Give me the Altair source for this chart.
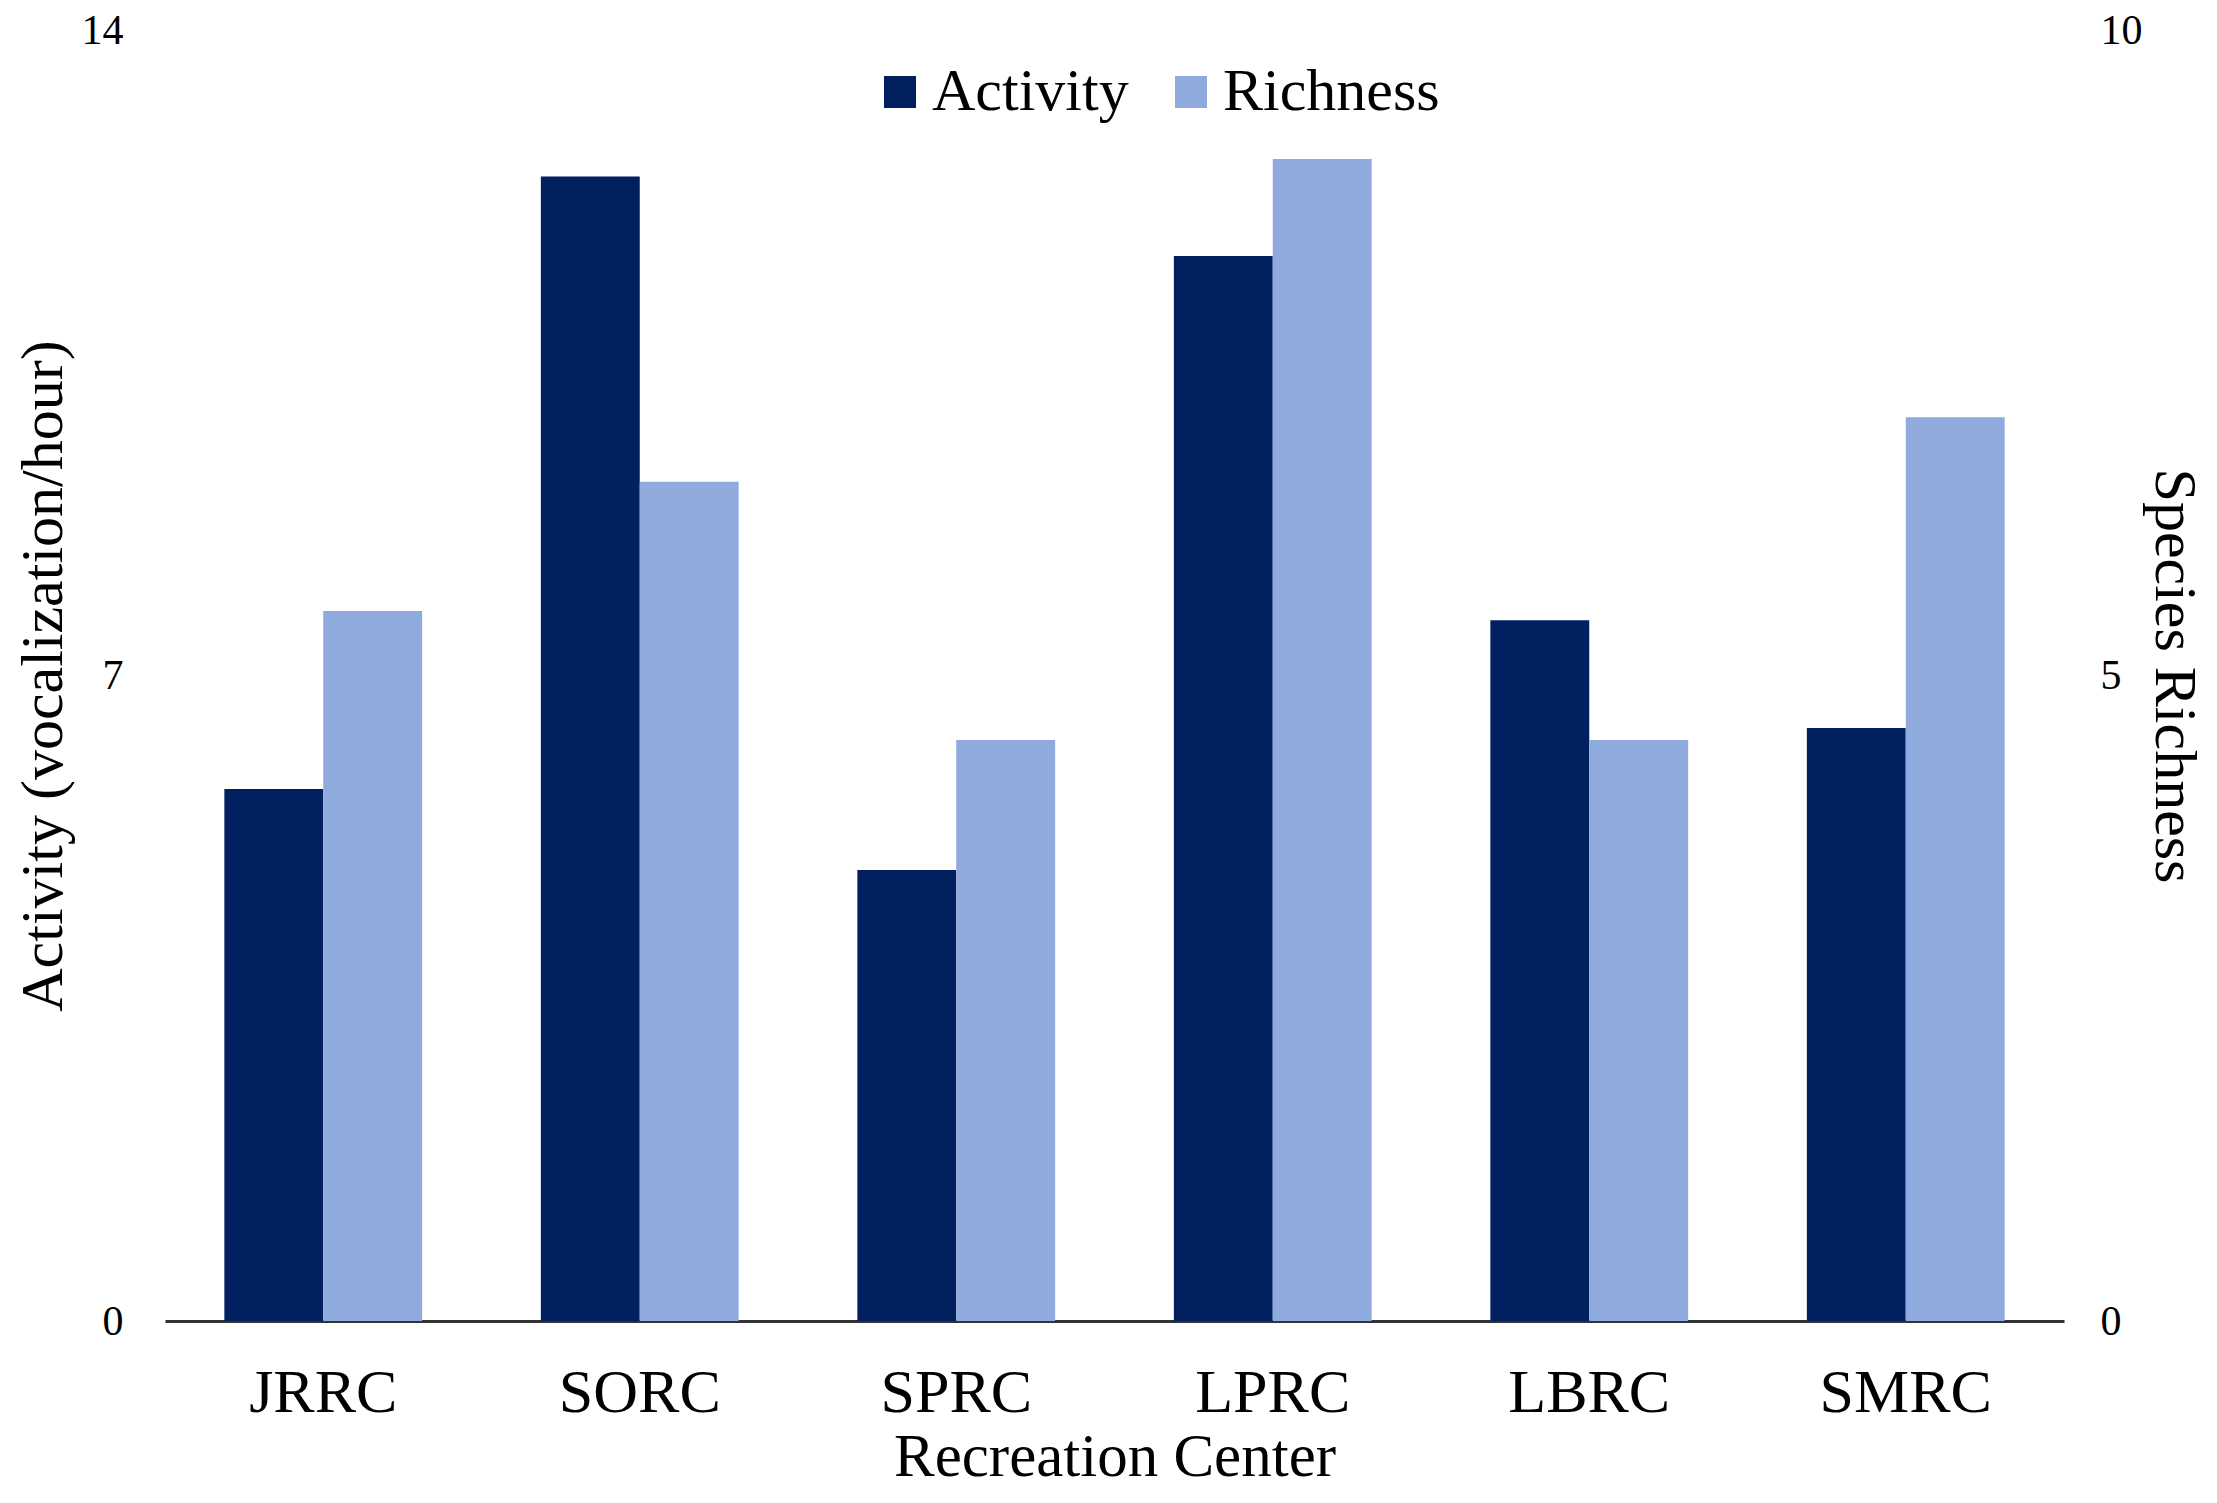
import altair as alt
import pandas as pd

# ---- data ----
centers = ["JRRC", "SORC", "SPRC", "LPRC", "LBRC", "SMRC"]
activity = [5.77, 12.41, 4.89, 11.55, 7.60, 6.43]   # vocalizations/hour (left axis)
richness = [5.5, 6.5, 4.5, 9.0, 4.5, 7.0]           # species richness (right axis)
series = ["Activity", "Richness"]
colors = ["#002060", "#8FAADC"]
left_ticks = [0, 7, 14]
right_ticks = [0, 5, 10]

df_a = pd.DataFrame({"center": centers, "value": activity, "series": series[0]})
df_r = pd.DataFrame({"center": centers, "value": richness, "series": series[1]})

FONT = "Liberation Serif"

x_enc = alt.X(
    "center:N",
    sort=centers,
    title="Recreation Center",
    scale=alt.Scale(paddingInner=0.375, paddingOuter=0.1875),
    axis=alt.Axis(
        labelAngle=0, ticks=False, tickSize=0, labelPadding=41, titlePadding=4,
        domainColor="#333333", domainWidth=3,
        labelFont=FONT, titleFont=FONT, labelFontSize=62, titleFontSize=61,
        titleFontWeight="normal", labelColor="black", titleColor="black",
    ),
)
xoff_enc = alt.XOffset("series:N", scale=alt.Scale(domain=series, paddingInner=0, paddingOuter=0))
color_enc = alt.Color(
    "series:N",
    scale=alt.Scale(domain=series, range=colors),
    legend=alt.Legend(
        title=None, orient="none", legendX=705, legendY=32, direction="horizontal",
        symbolType="square", symbolSize=1024, symbolStrokeWidth=0,
        labelFont=FONT, labelFontSize=60, labelColor="black", labelOffset=2,
        columnPadding=32, labelLimit=0,
    ),
)

common_axis = dict(
    grid=False, ticks=False, domain=False,
    labelFont=FONT, titleFont=FONT, labelFontSize=42, titleFontSize=60,
    titleFontWeight="normal", labelColor="black", titleColor="black",
)

bars_a = alt.Chart(df_a).mark_bar().encode(
    x=x_enc,
    xOffset=xoff_enc,
    color=color_enc,
    y=alt.Y(
        "value:Q",
        scale=alt.Scale(domain=[0, 14], nice=False),
        axis=alt.Axis(values=left_ticks, title="Activity (vocalization/hour)", orient="left",
                      labelPadding=42, titlePadding=7, **common_axis),
    ),
)

bars_r = alt.Chart(df_r).mark_bar().encode(
    x=x_enc,
    xOffset=xoff_enc,
    color=color_enc,
    y=alt.Y(
        "value:Q",
        scale=alt.Scale(domain=[0, 10], nice=False),
        axis=alt.Axis(values=right_ticks, title="Species Richness", orient="right",
                      labelPadding=36, titlePadding=0, **common_axis),
    ),
)

chart = (
    alt.layer(bars_a, bars_r)
    .resolve_scale(y="independent")
    .properties(
        width=1899, height=1291,
        autosize=alt.AutoSizeParams(type="none"),
        padding={"left": 157, "top": 22, "right": 145, "bottom": 172},
        background="white",
    )
    .configure_view(stroke=None)
)

chart.save("out.html", embed_options={"renderer": "svg", "actions": False})
